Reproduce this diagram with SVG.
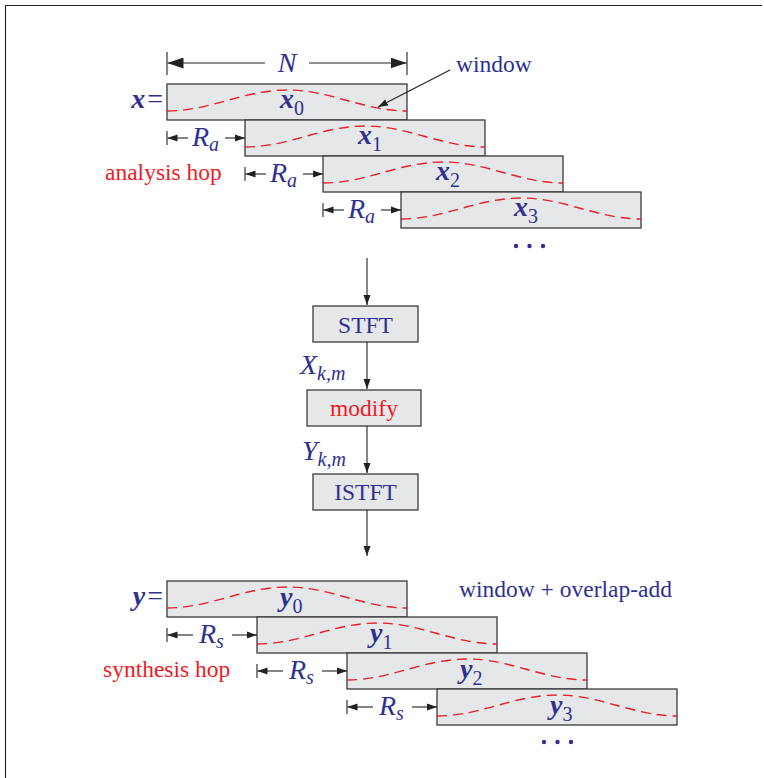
<svg xmlns="http://www.w3.org/2000/svg" xmlns:xlink="http://www.w3.org/1999/xlink" width="764" height="778" viewBox="0 0 764 778">
<style>
.box{fill:#E6E7E8;stroke:#3a3a3a;stroke-width:1.3}
.win{fill:none;stroke:#ED1C24;stroke-width:1.4;stroke-dasharray:10 6}
.ln{fill:none;stroke:#222;stroke-width:1.1}
.t{font-family:"Liberation Serif","Times New Roman",serif;font-size:23.5px;fill:#2E3192}
.red{fill:#ED1C24}
.m{font-family:"Liberation Serif","Times New Roman",serif;font-style:italic;font-size:28px;fill:#2E3192}
.b{font-weight:bold}
.sub{font-size:20px}
.up{font-style:normal}
.dot{fill:#2E3192}
</style>
<defs>
<marker id="ah" markerUnits="userSpaceOnUse" markerWidth="10" markerHeight="8" refX="10" refY="4" orient="auto"><path d="M0,0.5 L10,4 L0,7.5 z" fill="#222"/></marker>
<marker id="ahN" markerUnits="userSpaceOnUse" markerWidth="16" markerHeight="11" refX="16" refY="5.5" orient="auto"><path d="M0,0 L16,5.5 L0,11 z" fill="#222"/></marker>
<path id="wv" d="M0,27 C43.7,27 76.3,6 120,6 C163.7,6 196.3,27 240,27"/>
</defs>

<g id="frame"><path class="ln" d="M5.5,778 V5.5 H762" stroke="#333"/></g>

<g id="analysis">
<g id="x0"><rect class="box" x="167" y="84" width="240" height="36"/><use href="#wv" class="win" x="167" y="84"/><text class="m b" x="280" y="108">x<tspan class="sub up" font-weight="normal" dy="7">0</tspan></text></g>
<g id="x1"><rect class="box" x="245" y="120" width="240" height="36"/><use href="#wv" class="win" x="245" y="120"/><text class="m b" x="358" y="144">x<tspan class="sub up" font-weight="normal" dy="7">1</tspan></text></g>
<g id="x2"><rect class="box" x="323" y="156" width="240" height="36"/><use href="#wv" class="win" x="323" y="156"/><text class="m b" x="436" y="180">x<tspan class="sub up" font-weight="normal" dy="7">2</tspan></text></g>
<g id="x3"><rect class="box" x="401" y="192" width="240" height="36"/><use href="#wv" class="win" x="401" y="192"/><text class="m b" x="514" y="216">x<tspan class="sub up" font-weight="normal" dy="7">3</tspan></text></g>
<text class="m" x="163" y="108" text-anchor="end"><tspan class="b">x</tspan><tspan class="up" dx="2">=</tspan></text>
<g id="dotsx"><circle class="dot" cx="516" cy="246" r="2.2"/><circle class="dot" cx="529.5" cy="246" r="2.2"/><circle class="dot" cx="543" cy="246" r="2.2"/></g>
<text class="t red" x="105" y="180">analysis hop</text>
<text class="t" x="456" y="72">window</text>
</g>

<g id="synthesis">
<g id="y0"><rect class="box" x="167" y="581" width="240" height="36"/><use href="#wv" class="win" x="167" y="581"/><text class="m b" x="280" y="606">y<tspan class="sub up" font-weight="normal" dy="7">0</tspan></text></g>
<g id="y1"><rect class="box" x="257" y="617" width="240" height="36"/><use href="#wv" class="win" x="257" y="617"/><text class="m b" x="370" y="642">y<tspan class="sub up" font-weight="normal" dy="7">1</tspan></text></g>
<g id="y2"><rect class="box" x="347" y="653" width="240" height="36"/><use href="#wv" class="win" x="347" y="653"/><text class="m b" x="460" y="678">y<tspan class="sub up" font-weight="normal" dy="7">2</tspan></text></g>
<g id="y3"><rect class="box" x="437" y="689" width="240" height="36"/><use href="#wv" class="win" x="437" y="689"/><text class="m b" x="550" y="714">y<tspan class="sub up" font-weight="normal" dy="7">3</tspan></text></g>
<text class="m" x="163" y="605" text-anchor="end"><tspan class="b">y</tspan><tspan class="up" dx="2">=</tspan></text>
<g id="dotsy"><circle class="dot" cx="544" cy="742" r="2.2"/><circle class="dot" cx="557.5" cy="742" r="2.2"/><circle class="dot" cx="571" cy="742" r="2.2"/></g>
<text class="t red" x="103" y="677">synthesis hop</text>
<text class="t" x="459" y="597">window + overlap-add</text>
</g>

<g id="STFT"><rect class="box" x="313" y="306" width="105" height="36"/><text class="t" x="365.5" y="333" text-anchor="middle">STFT</text></g>
<g id="modify"><rect class="box" x="307" y="390" width="114" height="36"/><text class="t red" x="364" y="416" text-anchor="middle">modify</text></g>
<g id="ISTFT"><rect class="box" x="313" y="474" width="105" height="36"/><text class="t" x="365.5" y="500" text-anchor="middle">ISTFT</text></g>

<g id="connectors">
<line class="ln" x1="367" y1="258" x2="367" y2="305" marker-end="url(#ah)"/>
<line class="ln" x1="367" y1="342" x2="367" y2="389" marker-end="url(#ah)"/>
<line class="ln" x1="367" y1="426" x2="367" y2="473" marker-end="url(#ah)"/>
<line class="ln" x1="367" y1="510" x2="367" y2="556" marker-end="url(#ah)"/>
<line class="ln" x1="450" y1="70" x2="378" y2="107" marker-end="url(#ah)"/>
<line class="ln" x1="167" y1="52" x2="167" y2="75"/>
<line class="ln" x1="407" y1="52" x2="407" y2="75"/>
<line class="ln" x1="265" y1="63" x2="167.5" y2="63" marker-end="url(#ahN)"/>
<line class="ln" x1="309" y1="63" x2="406.5" y2="63" marker-end="url(#ahN)"/>
<line class="ln" x1="167" y1="131" x2="167" y2="145"/>
<line class="ln" x1="188" y1="138" x2="167.5" y2="138" marker-end="url(#ah)"/>
<line class="ln" x1="225" y1="138" x2="245" y2="138" marker-end="url(#ah)"/>
<line class="ln" x1="245" y1="167" x2="245" y2="181"/>
<line class="ln" x1="266" y1="174" x2="245.5" y2="174" marker-end="url(#ah)"/>
<line class="ln" x1="303" y1="174" x2="323" y2="174" marker-end="url(#ah)"/>
<line class="ln" x1="323" y1="203" x2="323" y2="217"/>
<line class="ln" x1="344" y1="210" x2="323.5" y2="210" marker-end="url(#ah)"/>
<line class="ln" x1="381" y1="210" x2="401" y2="210" marker-end="url(#ah)"/>
<line class="ln" x1="167" y1="628" x2="167" y2="642"/>
<line class="ln" x1="193" y1="635" x2="167.5" y2="635" marker-end="url(#ah)"/>
<line class="ln" x1="232" y1="635" x2="257" y2="635" marker-end="url(#ah)"/>
<line class="ln" x1="257" y1="664" x2="257" y2="678"/>
<line class="ln" x1="283" y1="671" x2="257.5" y2="671" marker-end="url(#ah)"/>
<line class="ln" x1="322" y1="671" x2="347" y2="671" marker-end="url(#ah)"/>
<line class="ln" x1="347" y1="700" x2="347" y2="714"/>
<line class="ln" x1="373" y1="707" x2="347.5" y2="707" marker-end="url(#ah)"/>
<line class="ln" x1="412" y1="707" x2="437" y2="707" marker-end="url(#ah)"/>
</g>

<g id="labels">
<text class="m" x="287" y="72" text-anchor="middle">N</text>
<text class="m" x="192" y="146">R<tspan class="sub" dy="5">a</tspan></text>
<text class="m" x="270" y="182">R<tspan class="sub" dy="5">a</tspan></text>
<text class="m" x="348" y="218">R<tspan class="sub" dy="5">a</tspan></text>
<text class="m" x="199" y="643">R<tspan class="sub" dy="5">s</tspan></text>
<text class="m" x="289" y="679">R<tspan class="sub" dy="5">s</tspan></text>
<text class="m" x="379" y="715">R<tspan class="sub" dy="5">s</tspan></text>
<text class="m" x="300" y="374">X<tspan class="sub" dy="6">k,m</tspan></text>
<text class="m" x="302" y="460">Y<tspan class="sub" dy="6">k,m</tspan></text>
</g>
</svg>
